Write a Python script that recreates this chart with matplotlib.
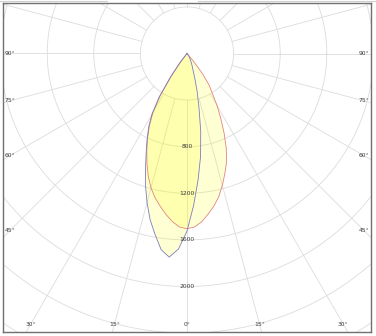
import numpy as np
import matplotlib.pyplot as plt
from matplotlib.lines import Line2D

# luminous intensity (cd) against gamma angle (deg), negative gamma = left half
gamma = [-40, -37.5, -35, -32.5, -30, -27.5, -25, -22.5, -20, -17.5, -15, -12.5,
         -10, -7.5, -5, -2.5, 0, 2.5, 5, 7.5, 10, 12.5, 15, 17.5, 20, 22.5, 25,
         27.5, 30, 32.5, 35, 37.5, 40, 42.5, 45]
c0_c180 = [0, 90, 235, 430, 585, 700, 801, 902, 1005, 1106, 1194, 1268,
           1330, 1392, 1448, 1490, 1505, 1490, 1450, 1390, 1330, 1259, 1172, 1081, 992, 881, 753,
           628, 515, 405, 330, 220, 80, 0, 0]
c90_c270 = [0, 95, 245, 445, 600, 712, 810, 915, 1040, 1185, 1325, 1462,
            1578, 1699, 1754, 1680, 1525, 1305, 1090, 892, 679, 475, 335, 225, 150, 115, 88,
            65, 48, 36, 25, 17, 10, 5, 0]

ring_values = [400, 800, 1200, 1600, 2000, 2400, 2800]
ring_labels = [800, 1200, 1600, 2000]
spoke_angles = np.arange(0, 360, 15)
angle_ticks = [-90, -75, -60, -45, -30, -15, 0, 15, 30, 45, 60, 75, 90]

# --- layout (pixels of the 376x336 picture) ---
W, H = 376, 336
CD_PER_PX = 400 / 46.6
left_px, right_px, top_px, bot_px = 3, 371, 3, 332
cx_px, cy_px = 187, 53.5

fig = plt.figure(figsize=(W / 100, H / 100), dpi=100)
ax = fig.add_axes([left_px / W, 1 - bot_px / H,
                   (right_px - left_px) / W, (bot_px - top_px) / H])
x0 = (left_px - cx_px) * CD_PER_PX
x1 = (right_px - cx_px) * CD_PER_PX
y1 = (cy_px - top_px) * CD_PER_PX
y0 = (cy_px - bot_px) * CD_PER_PX
ax.set_xlim(x0, x1)
ax.set_ylim(y0, y1)


def polar_xy(g, r):
    g = np.radians(np.asarray(g, dtype=float))
    r = np.asarray(r, dtype=float)
    return r * np.sin(g), -r * np.cos(g)


grid_kw = dict(color="#dcdcdc", lw=0.6, zorder=1)

# --- grid: rings + spokes (spokes start at the first ring) ---
t = np.linspace(0, 2 * np.pi, 400)
for r in ring_values:
    ax.plot(r * np.cos(t), r * np.sin(t), **grid_kw)
for a in spoke_angles:
    xs, ys = polar_xy([a, a], [ring_values[0], 5000])
    ax.plot(xs, ys, **grid_kw)

# --- intensity curves ---
for vals, edge in [(c0_c180, "#e3837d"), (c90_c270, "#7c7cbc")]:
    xs, ys = polar_xy(gamma, vals)
    ax.fill(xs, ys, color="#ffff00", alpha=0.17, lw=0, zorder=2)
    ax.plot(xs, ys, color=edge, lw=0.6, zorder=3)

# --- labels ---
txt_kw = dict(fontsize=4.3, color="#3a3a3a", ha="center", va="center", zorder=4)
for r in ring_labels:
    ax.text(0, -r, str(r), **txt_kw)

xi0 = x0 + 7 * CD_PER_PX
xi1 = x1 - 7 * CD_PER_PX
yi0 = y0 + 8 * CD_PER_PX
for a in angle_ticks:
    dx, dy = np.sin(np.radians(a)), -np.cos(np.radians(a))
    cands = []
    if dx < -1e-9:
        cands.append(xi0 / dx)
    if dx > 1e-9:
        cands.append(xi1 / dx)
    if dy < -1e-9:
        cands.append(yi0 / dy)
    s = min(cands)
    ax.text(s * dx, s * dy, f"{abs(a)}°", **txt_kw)

ax.set_xticks([])
ax.set_yticks([])
for sp in ax.spines.values():
    sp.set_color("#707070")
    sp.set_linewidth(1.0)

# thin strip remains along the top edge
for xa, xb in [(0, 107), (198, W)]:
    fig.add_artist(Line2D([xa / W, xb / W], [1 - 0.7 / H, 1 - 0.7 / H],
                          transform=fig.transFigure, color="#cfcfcf", lw=0.8))

fig.savefig("out.png", dpi=100)
